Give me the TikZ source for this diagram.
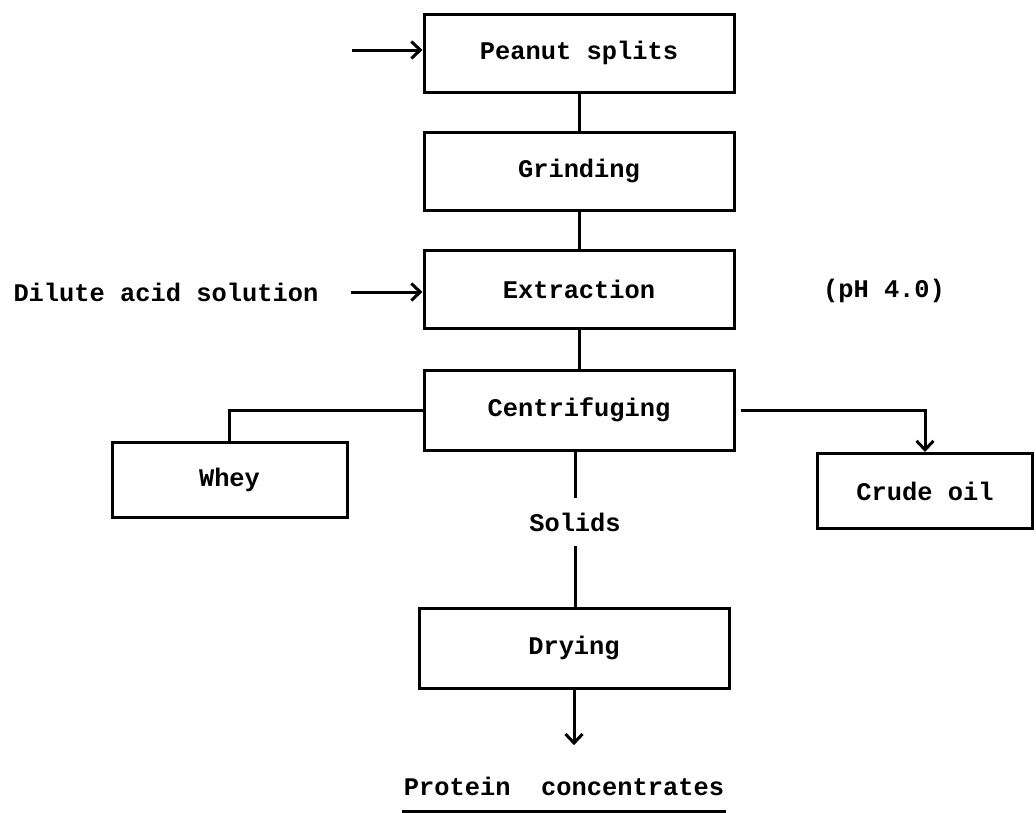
\documentclass[tikz,border=0pt]{standalone}
\usepackage{fontspec}
\setmonofont{Liberation Mono}
\usetikzlibrary{positioning,arrows.meta}

\begin{document}
\begin{tikzpicture}[x=1pt, y=-1pt, line width=3pt,
    font=\ttfamily\bfseries\fontsize{25.4}{30}\selectfont,
    stage/.style={draw, minimum width=310pt, minimum height=78pt, inner sep=0pt},
    outlet/.style={draw, minimum height=75pt, inner sep=0pt},
    >={Straight Barb[length=9pt,width=17pt]}]
    \useasboundingbox (0,0) rectangle (1036,812);
    % main line
    \node [stage] (peanut) at (579,53) {Peanut splits};
    \node [stage] (grind) at (579,171) {Grinding};
    \node [stage] (extract) at (579,289) {Extraction};
    \node [stage, minimum height=80pt] (centri) at (579,410) {Centrifuging};
    \node [inner xsep=0pt, inner ysep=13pt] (solids) at (575,522) {Solids};
    \node [stage, minimum height=80pt] (dry) at (574,648) {Drying};
    \node [inner sep=0pt] (protein) at (564,786) {Protein\ \ concentrates};
    % outlets
    \node [outlet, minimum width=235pt] (whey) at (229.5,480) {Whey};
    \node [outlet, minimum width=215pt] (crude) at (925,491) {Crude oil};
    % feeds
    \coordinate (feed) at (352,50);
    \node [anchor=west, inner sep=0pt] (dilute) at (12,292) {Dilute acid solution};
    \node (ph) at (884,291) {(pH 4.0)};
    \draw[->] (feed) -- (feed -| peanut.west);
    \draw[->] ([xshift=31pt]dilute.east) -- (dilute -| extract.west);
    % connectors
    \draw (peanut) -- (grind);
    \draw (grind) -- (extract);
    \draw (extract) -- (centri);
    \draw (centri.west) -| (whey.north);
    \draw[->] ([xshift=5pt]centri.east) -| (crude.north);
    \draw (solids.north) -- (solids.north |- centri.south);
    \draw (solids.south) -- (solids.south |- dry.north);
    \draw[->] (dry.south) -- ([yshift=30pt]dry.south |- protein.north);
    \draw ([yshift=-15pt]protein.south west) -- ([yshift=-15pt]protein.south east);
\end{tikzpicture}
\end{document}
